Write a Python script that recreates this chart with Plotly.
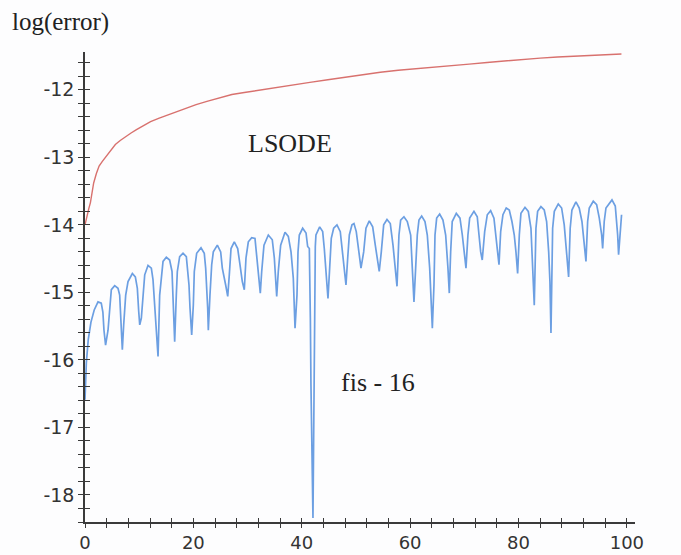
import plotly.graph_objects as go

# LSODE error curve (log10 of global error vs t)
lsode_t = [0.0, 0.3, 0.7, 1.0, 1.6, 2.1, 2.6, 3.2, 3.9, 4.7, 5.6, 6.5, 7.5, 8.5, 9.5,
           10.8, 12.1, 13.7, 15.4, 17.0, 18.6, 20.5, 22.5, 24.8, 27.1, 29.4, 31.7, 35.0,
           38.2, 41.5, 44.8, 48.0, 51.3, 54.5, 57.8, 61.1, 64.4, 67.6, 70.9, 74.2, 77.5,
           80.7, 84.0, 87.2, 90.5, 94.7, 99.0]
lsode_err = [-14.0, -13.88, -13.76, -13.67, -13.38, -13.24, -13.13, -13.06, -12.99, -12.90,
             -12.81, -12.75, -12.69, -12.64, -12.59, -12.53, -12.47, -12.42, -12.37, -12.32,
             -12.27, -12.22, -12.17, -12.12, -12.07, -12.04, -12.01, -11.97, -11.93, -11.89,
             -11.85, -11.81, -11.78, -11.74, -11.71, -11.69, -11.67, -11.645, -11.62, -11.595,
             -11.57, -11.55, -11.53, -11.515, -11.50, -11.485, -11.47]

# fis-16 error curve
fis_t = [
    0.0, 0.1, 0.25, 0.6, 1.1, 1.7, 2.4, 3.0, 3.3, 3.5, 3.8,
    4.25, 4.56, 4.86, 5.48, 6.09, 6.40, 6.71, 6.89,
    7.14, 7.51, 7.94, 8.74, 9.29, 9.66, 9.91, 10.10,
    10.40, 10.70, 11.02, 11.63, 12.24, 12.55, 13.04, 13.48,
    13.78, 14.08, 14.40, 15.01, 15.62, 16.06, 16.37, 16.55,
    16.85, 17.04, 17.47, 18.09, 18.70, 18.77, 19.19, 19.38, 19.69,
    19.99, 20.17, 20.61, 21.41, 22.01, 22.27, 22.64, 22.76,
    23.06, 23.38, 23.68, 24.42, 25.04, 25.34, 25.96, 26.34,
    26.63, 26.95, 27.55, 28.18, 28.60, 29.03, 29.40,
    29.71, 30.14, 30.77, 31.37, 31.69, 32.11, 32.35,
    32.61, 33.03, 33.83, 34.56, 34.94, 35.19, 35.38,
    35.67, 36.11, 36.91, 37.52, 38.02, 38.44, 38.76,
    39.12, 39.31, 39.55, 40.17, 40.79, 41.09, 41.40, 41.59, 41.70, 42.07, 42.20, 42.39, 42.50,
    42.62, 43.31, 43.86, 44.16, 44.47, 44.84,
    45.15, 45.45, 45.89, 46.50, 47.11, 47.55, 47.86, 48.16,
    48.48, 48.78, 49.27, 49.64, 50.06, 50.51, 50.93,
    51.43, 51.85, 52.46, 53.09, 53.57, 54.07, 54.30,
    54.68, 55.12, 55.73, 56.34, 56.84, 57.26, 57.58,
    57.94, 58.25, 58.86, 59.48, 60.10, 60.40, 60.71,
    61.02, 61.32, 61.63, 62.13, 62.74, 63.17, 63.61, 63.85, 64.10,
    64.40, 64.59, 64.90, 65.45, 66.06, 66.56, 66.98, 67.23,
    67.48, 67.77, 68.52, 69.20, 69.63, 69.99, 70.31,
    70.67, 70.99, 71.78, 72.39, 72.71, 73.02, 73.31,
    73.76, 74.24, 74.86, 75.47, 75.79, 76.08, 76.40,
    76.71, 77.13, 77.74, 78.30, 78.79, 79.22, 79.53, 79.84,
    80.15, 80.45, 81.20, 81.81, 82.30, 82.61, 82.91,
    83.22, 83.53, 84.14, 84.75, 85.19, 85.57, 85.80, 85.99,
    86.30, 86.61, 87.34, 87.96, 88.44, 88.88, 89.25,
    89.54, 89.86, 90.60, 91.21, 91.71, 92.14, 92.45,
    92.76, 93.06, 93.80, 94.42, 94.91, 95.35, 95.53,
    95.82, 96.14, 97.25, 97.86, 98.05, 98.30, 98.47, 98.78, 99.02,
]
fis_err = [
    -16.59, -16.41, -16.04, -15.70, -15.44, -15.26, -15.14, -15.16, -15.29, -15.56, -15.78,
    -15.56, -15.23, -14.96, -14.90, -14.94, -15.04, -15.48, -15.85,
    -15.48, -15.04, -14.84, -14.72, -14.77, -14.94, -15.28, -15.48,
    -15.38, -15.04, -14.74, -14.60, -14.64, -14.81, -15.38, -15.95,
    -15.04, -14.74, -14.54, -14.48, -14.52, -14.69, -15.28, -15.73,
    -15.04, -14.69, -14.47, -14.42, -14.47, -14.54, -14.89, -15.23, -15.63,
    -15.19, -14.69, -14.42, -14.34, -14.42, -14.64, -15.23, -15.56,
    -15.04, -14.59, -14.40, -14.30, -14.40, -14.64, -14.89, -15.06,
    -14.74, -14.35, -14.25, -14.35, -14.59, -14.84, -14.96,
    -14.49, -14.25, -14.19, -14.20, -14.44, -14.79, -15.01,
    -14.69, -14.30, -14.15, -14.22, -14.49, -14.84, -15.06,
    -14.69, -14.30, -14.11, -14.17, -14.40, -14.79, -15.53,
    -15.04, -14.40, -14.15, -14.05, -14.12, -14.32, -14.35, -15.38, -16.37, -18.34, -16.37, -15.38, -14.32,
    -14.15, -14.03, -14.10, -14.35, -14.74, -15.09,
    -14.64, -14.20, -14.05, -14.00, -14.10, -14.40, -14.69, -14.89,
    -14.49, -14.15, -14.00, -13.98, -14.10, -14.40, -14.64,
    -14.40, -14.05, -13.94, -14.03, -14.30, -14.54, -14.69,
    -14.40, -14.00, -13.92, -13.98, -14.30, -14.64, -14.91,
    -14.15, -13.93, -13.88, -13.95, -14.15, -14.64, -15.14,
    -14.64, -14.15, -13.93, -13.87, -13.95, -14.15, -14.64, -15.14, -15.53,
    -14.89, -14.15, -13.90, -13.84, -13.93, -14.15, -14.64, -15.01,
    -14.40, -13.95, -13.83, -13.90, -14.15, -14.40, -14.64,
    -14.15, -13.90, -13.80, -13.88, -14.15, -14.40, -14.52,
    -14.10, -13.85, -13.79, -13.90, -14.15, -14.40, -14.59,
    -14.10, -13.85, -13.75, -13.78, -13.95, -14.15, -14.40, -14.72,
    -14.15, -13.83, -13.74, -13.80, -14.05, -14.64, -15.19,
    -14.05, -13.80, -13.73, -13.78, -13.95, -14.40, -14.84, -15.60,
    -14.05, -13.80, -13.69, -13.75, -14.00, -14.40, -14.77,
    -14.05, -13.78, -13.66, -13.75, -13.95, -14.30, -14.54,
    -13.95, -13.75, -13.65, -13.70, -13.90, -14.15, -14.35,
    -13.95, -13.75, -13.63, -13.72, -13.90, -14.15, -14.44, -14.15, -13.85,
]

x_ticks = [0, 20, 40, 60, 80, 100]
x_tick_text = ["0", "20", "40", "60", "80", "100"]
y_ticks = [-18, -17, -16, -15, -14, -13, -12]
y_tick_text = ["-18", "-17", "-16", "-15", "-14", "-13", "-12"]

X_RANGE = [0, 101.5]
Y_RANGE = [-18.40, -11.44]
AXIS_COLOR = "#3a3a3a"
X_TICK_FONT = dict(family="DejaVu Sans", size=18, color="#333333")
Y_TICK_FONT = dict(family="DejaVu Sans", size=19, color="#333333")
SERIF = "Liberation Serif"

x_minor = [v for v in range(0, 101, 4)]
y_minor = [round(-18.4 + 0.2 * i, 1) for i in range(35)]

fig = go.Figure()
fig.add_trace(go.Scatter(x=lsode_t, y=lsode_err, mode="lines",
                         line=dict(color="#d8716e", width=1.4), hoverinfo="skip"))
fig.add_trace(go.Scatter(x=fis_t, y=fis_err, mode="lines",
                         line=dict(color="#6c9fe2", width=1.7), hoverinfo="skip"))
# empty trace so the inward-tick overlay axes get drawn
fig.add_trace(go.Scatter(x=[], y=[], xaxis="x2", yaxis="y2", showlegend=False))

common_x = dict(range=X_RANGE, showgrid=False, zeroline=False, tickmode="array",
                tickvals=x_ticks, ticklen=4, tickwidth=1.2, tickcolor=AXIS_COLOR,
                automargin=False)
common_y = dict(range=Y_RANGE, showgrid=False, zeroline=False, tickmode="array",
                tickvals=y_ticks, ticklen=5, tickwidth=1.2, tickcolor=AXIS_COLOR,
                automargin=False)

fig.update_layout(
    template="none",
    width=681, height=555,
    margin=dict(l=85, r=46, t=52, b=33, pad=0),
    paper_bgcolor="#fdfdfe", plot_bgcolor="#fdfdfe",
    showlegend=False,
    xaxis=dict(**common_x, ticktext=x_tick_text, ticks="outside",
               showline=True, linecolor=AXIS_COLOR, linewidth=1.5,
               tickfont=X_TICK_FONT,
               minor=dict(tickmode="array", tickvals=x_minor, ticks="outside",
                          ticklen=4, tickwidth=1.2, tickcolor=AXIS_COLOR, showgrid=False)),
    yaxis=dict(**common_y, ticktext=y_tick_text, ticks="outside",
               showline=True, linecolor=AXIS_COLOR, linewidth=1.5,
               tickfont=Y_TICK_FONT,
               minor=dict(tickmode="array", tickvals=y_minor, ticks="outside",
                          ticklen=5, tickwidth=1.2, tickcolor=AXIS_COLOR, showgrid=False)),
    xaxis2=dict(**common_x, overlaying="x", anchor="y", side="bottom", ticks="inside",
                showticklabels=False, showline=False,
                minor=dict(tickmode="array", tickvals=x_minor, ticks="inside",
                           ticklen=4, tickwidth=1.2, tickcolor=AXIS_COLOR, showgrid=False)),
    yaxis2=dict(**common_y, overlaying="y", anchor="x", side="left", ticks="inside",
                showticklabels=False, showline=False,
                minor=dict(tickmode="array", tickvals=y_minor, ticks="inside",
                           ticklen=5, tickwidth=1.2, tickcolor=AXIS_COLOR, showgrid=False)),
    annotations=[
        dict(text="log(error)", xref="paper", yref="paper", x=-0.137, y=1.063,
             xanchor="left", yanchor="middle", showarrow=False,
             font=dict(family=SERIF, size=25, color="#222222")),
        dict(text="LSODE", x=37.8, y=-12.79, xref="x", yref="y", showarrow=False,
             font=dict(family=SERIF, size=26, color="#222222")),
        dict(text="fis - 16", x=54.1, y=-16.34, xref="x", yref="y", showarrow=False,
             font=dict(family=SERIF, size=26, color="#222222")),
    ],
)

fig.write_html("out.html")
